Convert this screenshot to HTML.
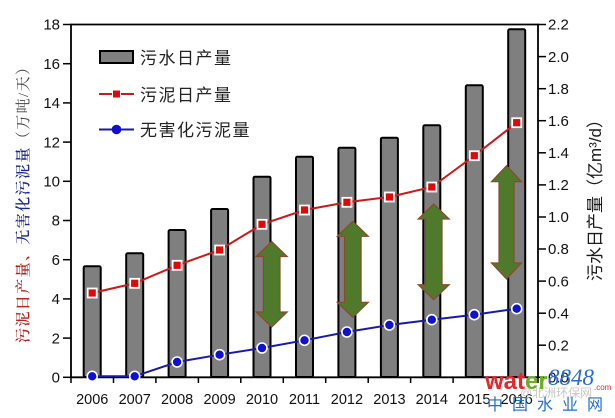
<!DOCTYPE html>
<html><head><meta charset="utf-8"><style>
html,body{margin:0;padding:0;background:#fff;}
svg{display:block;}
</style></head><body>
<svg width="615" height="418" viewBox="0 0 615 418" xmlns="http://www.w3.org/2000/svg">
<rect width="615" height="418" fill="#fff"/>
<!-- bars -->
<g fill="#7f7f7f" stroke="#000" stroke-width="2">
<rect x="83.7" y="266.3" width="17" height="110.7" rx="1.5"/>
<rect x="126.2" y="253.3" width="17" height="123.7" rx="1.5"/>
<rect x="168.6" y="230" width="17" height="147" rx="1.5"/>
<rect x="211.1" y="209" width="17" height="168" rx="1.5"/>
<rect x="253.5" y="176.7" width="17" height="200.3" rx="1.5"/>
<rect x="296" y="156.7" width="17" height="220.3" rx="1.5"/>
<rect x="338.4" y="147.7" width="17" height="229.3" rx="1.5"/>
<rect x="380.9" y="137.7" width="17" height="239.3" rx="1.5"/>
<rect x="423.3" y="125.3" width="17" height="251.7" rx="1.5"/>
<rect x="465.8" y="85.3" width="17" height="291.7" rx="1.5"/>
<rect x="508.2" y="29.3" width="17" height="347.7" rx="1.5"/>
</g>
<!-- axes -->
<g stroke="#000" stroke-width="1.8" fill="none">
<line x1="71" y1="24.5" x2="71" y2="377.5"/>
<line x1="538" y1="24.5" x2="538" y2="377.5"/>
<line x1="70" y1="24.5" x2="539" y2="24.5"/>
<line x1="70" y1="377.3" x2="539" y2="377.3"/>
</g>
<g stroke="#000" stroke-width="1.5">
<line x1="63" y1="377.3" x2="71" y2="377.3"/><line x1="63" y1="338.1" x2="71" y2="338.1"/>
<line x1="63" y1="298.9" x2="71" y2="298.9"/><line x1="63" y1="259.7" x2="71" y2="259.7"/>
<line x1="63" y1="220.5" x2="71" y2="220.5"/><line x1="63" y1="181.3" x2="71" y2="181.3"/>
<line x1="63" y1="142.1" x2="71" y2="142.1"/><line x1="63" y1="102.9" x2="71" y2="102.9"/>
<line x1="63" y1="63.7" x2="71" y2="63.7"/><line x1="63" y1="24.5" x2="71" y2="24.5"/>
<line x1="538" y1="377.3" x2="546" y2="377.3"/><line x1="538" y1="345.2" x2="546" y2="345.2"/>
<line x1="538" y1="313.2" x2="546" y2="313.2"/><line x1="538" y1="281.1" x2="546" y2="281.1"/>
<line x1="538" y1="249" x2="546" y2="249"/><line x1="538" y1="217" x2="546" y2="217"/>
<line x1="538" y1="184.9" x2="546" y2="184.9"/><line x1="538" y1="152.8" x2="546" y2="152.8"/>
<line x1="538" y1="120.7" x2="546" y2="120.7"/><line x1="538" y1="88.7" x2="546" y2="88.7"/>
<line x1="538" y1="56.6" x2="546" y2="56.6"/><line x1="538" y1="24.5" x2="546" y2="24.5"/>
<line x1="71" y1="377" x2="71" y2="383"/><line x1="113.5" y1="377" x2="113.5" y2="383"/>
<line x1="155.9" y1="377" x2="155.9" y2="383"/><line x1="198.4" y1="377" x2="198.4" y2="383"/>
<line x1="240.8" y1="377" x2="240.8" y2="383"/><line x1="283.3" y1="377" x2="283.3" y2="383"/>
<line x1="325.7" y1="377" x2="325.7" y2="383"/><line x1="368.2" y1="377" x2="368.2" y2="383"/>
<line x1="410.6" y1="377" x2="410.6" y2="383"/><line x1="453.1" y1="377" x2="453.1" y2="383"/>
<line x1="495.5" y1="377" x2="495.5" y2="383"/><line x1="538" y1="377" x2="538" y2="383"/>
</g>
<!-- tick labels -->
<g font-family="Liberation Sans, sans-serif" font-size="15" fill="#111" text-anchor="end">
<text x="60" y="382.5">0</text><text x="60" y="343.3">2</text><text x="60" y="304.1">4</text>
<text x="60" y="264.9">6</text><text x="60" y="225.7">8</text><text x="60" y="186.5">10</text>
<text x="60" y="147.3">12</text><text x="60" y="108.1">14</text><text x="60" y="68.9">16</text>
<text x="60" y="29.7">18</text>
</g>
<g font-family="Liberation Sans, sans-serif" font-size="15" fill="#111" text-anchor="start">
<text x="548" y="382.5">0.0</text><text x="548" y="350.4">0.2</text><text x="548" y="318.4">0.4</text>
<text x="548" y="286.3">0.6</text><text x="548" y="254.2">0.8</text><text x="548" y="222.2">1.0</text>
<text x="548" y="190.1">1.2</text><text x="548" y="158">1.4</text><text x="548" y="125.9">1.6</text>
<text x="548" y="93.9">1.8</text><text x="548" y="61.8">2.0</text><text x="548" y="29.7">2.2</text>
</g>
<g font-family="Liberation Sans, sans-serif" font-size="14.5" fill="#111" text-anchor="middle">
<text x="92.2" y="404">2006</text><text x="134.7" y="404">2007</text><text x="177.1" y="404">2008</text>
<text x="219.6" y="404">2009</text><text x="262" y="404">2010</text><text x="304.5" y="404">2011</text>
<text x="346.9" y="404">2012</text><text x="389.4" y="404">2013</text><text x="431.8" y="404">2014</text>
<text x="474.3" y="404">2015</text><text x="516.7" y="404">2016</text>
</g>
<!-- arrows -->
<g fill="#4f7a2b" stroke="#8a4a2c" stroke-width="1.2" stroke-linejoin="miter">
<polygon points="271.7,241.5 287.2,256.5 280,256.5 280,312 287.2,312 271.7,327 256.2,312 263.4,312 263.4,256.5 256.2,256.5"/>
<polygon points="352.8,221.3 368.3,236.3 361.1,236.3 361.1,302.3 368.3,302.3 352.8,317.3 337.3,302.3 344.5,302.3 344.5,236.3 337.3,236.3"/>
<polygon points="433.7,204 449.2,219 442,219 442,284.7 449.2,284.7 433.7,299.7 418.2,284.7 425.4,284.7 425.4,219 418.2,219"/>
<polygon points="506.5,165.7 521.5,181.7 514,181.7 514,263 521.5,263 506.5,279 491.5,263 499,263 499,181.7 491.5,181.7"/>
</g>
<!-- red line -->
<polyline fill="none" stroke="#cc1a1a" stroke-width="2" points="92.2,293 134.7,283.3 177.1,265.3 219.6,250 262,224.3 304.5,210 346.9,202.3 389.4,197 431.8,187 474.3,155.7 516.7,122.7"/>
<g fill="#dd0a0a" stroke="#fff" stroke-width="1.8">
<rect x="87.7" y="288.5" width="9" height="9"/><rect x="130.2" y="278.8" width="9" height="9"/>
<rect x="172.6" y="260.8" width="9" height="9"/><rect x="215.1" y="245.5" width="9" height="9"/>
<rect x="257.5" y="219.8" width="9" height="9"/><rect x="300" y="205.5" width="9" height="9"/>
<rect x="342.4" y="197.8" width="9" height="9"/><rect x="384.9" y="192.5" width="9" height="9"/>
<rect x="427.3" y="182.5" width="9" height="9"/><rect x="469.8" y="151.2" width="9" height="9"/>
<rect x="512.2" y="118.2" width="9" height="9"/>
</g>
<!-- blue line -->
<polyline fill="none" stroke="#1a1aa8" stroke-width="2" points="92.2,376.3 134.7,376.3 177.1,362 219.6,354.7 262,348 304.5,340.3 346.9,332 389.4,325 431.8,319.7 474.3,314.7 516.7,308.7"/>
<g fill="#1010d0" stroke="#fff" stroke-width="1.6">
<circle cx="92.2" cy="376.3" r="5"/><circle cx="134.7" cy="376.3" r="5"/>
<circle cx="177.1" cy="362" r="5"/><circle cx="219.6" cy="354.7" r="5"/>
<circle cx="262" cy="348" r="5"/><circle cx="304.5" cy="340.3" r="5"/>
<circle cx="346.9" cy="332" r="5"/><circle cx="389.4" cy="325" r="5"/>
<circle cx="431.8" cy="319.7" r="5"/><circle cx="474.3" cy="314.7" r="5"/>
<circle cx="516.7" cy="308.7" r="5"/>
</g>
<!-- legend -->
<rect x="100" y="51" width="33" height="12" fill="#7f7f7f" stroke="#000" stroke-width="2"/>
<line x1="99" y1="94" x2="134" y2="94" stroke="#cc1a1a" stroke-width="2"/>
<rect x="112.5" y="90" width="8" height="8" fill="#dd0a0a" stroke="#fff" stroke-width="1"/>
<line x1="99" y1="129.5" x2="134" y2="129.5" stroke="#1a1aa8" stroke-width="2"/>
<circle cx="116.5" cy="129.5" r="4.8" fill="#1010d0"/>
<g font-family="Liberation Sans, 'Noto Sans CJK SC', sans-serif" font-size="17" fill="#222" letter-spacing="1.5">
<text x="140" y="64">污水日产量</text>
<text x="140" y="101">污泥日产量</text>
<text x="140" y="136">无害化污泥量</text>
</g>
<!-- axis titles -->
<text transform="translate(28.2,343) rotate(-90)" font-family="Liberation Serif, 'Noto Serif CJK SC', serif" font-size="15" font-weight="600" letter-spacing="1.4"><tspan fill="#b5251f">污泥日产量、</tspan><tspan fill="#1c2a8c">无害化污泥量</tspan><tspan fill="#444" font-weight="normal">（万吨/天）</tspan></text>
<text transform="translate(601,281) rotate(-90)" font-family="Liberation Sans, 'Noto Sans CJK SC', sans-serif" font-size="17" fill="#1a1a1a">污水日产量（亿m³/d）</text>
<!-- watermark -->
<g font-family="Liberation Sans, 'Noto Sans CJK SC', sans-serif">
<text x="485" y="389" font-size="24" font-weight="bold"><tspan fill="#e8262a">wat</tspan><tspan fill="#6ab023">er</tspan></text>
<text x="548" y="385" font-family="Liberation Serif, serif" font-style="italic" font-size="23" fill="#2a6ad4">8848</text>
<text x="594" y="390" font-size="8" fill="#e8262a">.com</text>
<text x="520" y="397" font-size="12" fill="#c8c8c8">@北洲环保网</text>
<text x="487" y="410" font-size="16" fill="#1e6fd0" letter-spacing="9">中国水业网</text>
</g>
</svg>
</body></html>
